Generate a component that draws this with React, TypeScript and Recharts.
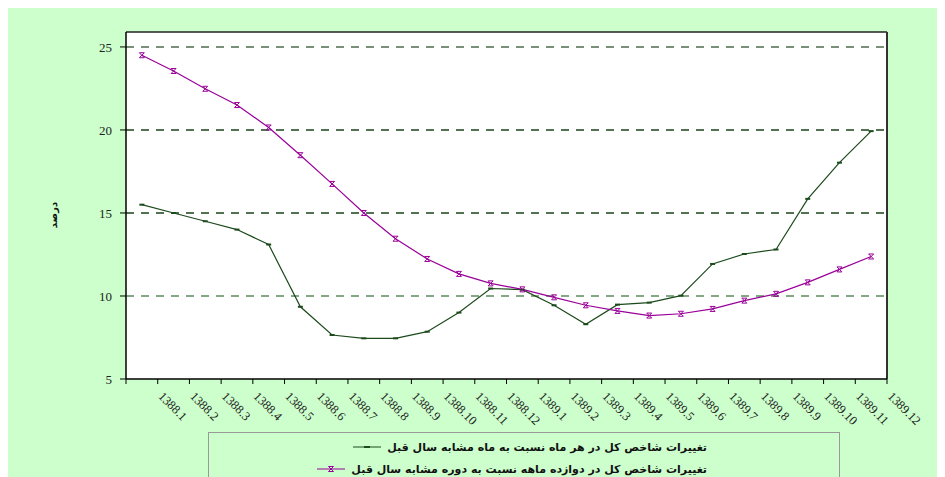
import {
  CartesianGrid,
  Line,
  LineChart,
  ReferenceLine,
  XAxis,
  YAxis,
} from "recharts";

const months = [
  "1388.1", "1388.2", "1388.3", "1388.4", "1388.5", "1388.6",
  "1388.7", "1388.8", "1388.9", "1388.10", "1388.11", "1388.12",
  "1389.1", "1389.2", "1389.3", "1389.4", "1389.5", "1389.6",
  "1389.7", "1389.8", "1389.9", "1389.10", "1389.11", "1389.12",
];

// change vs same month of previous year
const monthlyChange = [
  15.5, 15.0, 14.5, 14.0, 13.1, 9.35, 7.65, 7.45, 7.45, 7.85, 9.0, 10.45,
  10.38, 9.44, 8.3, 9.48, 9.6, 10.02, 11.93, 12.53, 12.8, 15.85, 18.03, 19.93,
];

// change of 12-month average vs previous period
const twelveMonthChange = [
  24.5, 23.55, 22.48, 21.5, 20.15, 18.48, 16.75, 15.0, 13.45, 12.23, 11.33, 10.76,
  10.4, 9.92, 9.44, 9.1, 8.82, 8.93, 9.22, 9.72, 10.13, 10.82, 11.6, 12.38,
];

const yTicks = [5, 10, 15, 20, 25];

const seriesNames = [
  "تغییرات شاخص کل در هر ماه نسبت به ماه مشابه سال قبل",
  "تغییرات شاخص کل در دوازده ماهه نسبت به دوره مشابه سال قبل",
];

const green = "#1c4a1c";
const purple = "#990099";

const data = months.map((m, i) => ({
  idx: i + 1,
  month: m,
  monthly: monthlyChange[i],
  twelve: twelveMonthChange[i],
}));

const xTicks = months.map((_, i) => i + 0.5).concat([months.length + 0.5]);

function DashDot(props: any) {
  const { cx, cy } = props;
  if (cx == null || cy == null) return null;
  return <line x1={cx - 2.5} x2={cx + 2.5} y1={cy} y2={cy} stroke={green} strokeWidth={2} />;
}

function StarDot(props: any) {
  const { cx, cy } = props;
  if (cx == null || cy == null) return null;
  const s = 2.5;
  return (
    <g stroke={purple} strokeWidth={1}>
      <line x1={cx - s} x2={cx + s} y1={cy - s} y2={cy + s} />
      <line x1={cx - s} x2={cx + s} y1={cy + s} y2={cy - s} />
      <line x1={cx - s} x2={cx + s} y1={cy - s} y2={cy - s} />
      <line x1={cx - s} x2={cx + s} y1={cy + s} y2={cy + s} />
    </g>
  );
}

function MonthTick(props: any) {
  const { x, y, payload } = props;
  const label = months[Math.round(payload.value - 1.5)];
  if (!label) return null;
  return (
    <text
      x={x}
      y={y + 11}
      transform={`rotate(45, ${x}, ${y + 11})`}
      textAnchor="start"
      fontFamily="Liberation Serif"
      fontSize={12.5}
      fill="#222"
    >
      {label}
    </text>
  );
}

function LegendBox() {
  const rows = [
    { name: seriesNames[0], color: green, star: false },
    { name: seriesNames[1], color: purple, star: true },
  ];
  return (
    <div
      style={{
        position: "absolute",
        left: 200,
        top: 424,
        width: 632,
        height: 45,
        borderTop: "1px solid #999",
        borderLeft: "1px solid #999",
        borderRight: "1px solid #999",
        boxSizing: "border-box",
        paddingTop: 3,
      }}
    >
      {rows.map((r) => (
        <div
          key={r.name}
          style={{
            display: "flex",
            justifyContent: "flex-end",
            alignItems: "center",
            paddingRight: 132,
            height: 22,
          }}
        >
          <svg width={28} height={10} style={{ marginRight: 6 }}>
            <line x1={0} x2={28} y1={5} y2={5} stroke={r.color} strokeWidth={1} />
            {r.star ? (
              <StarDot cx={14} cy={5} />
            ) : (
              <line x1={11} x2={17} y1={5} y2={5} stroke={green} strokeWidth={2} />
            )}
          </svg>
          <span
            style={{
              direction: "rtl",
              fontFamily: "DejaVu Sans",
              fontWeight: "bold",
              fontSize: 11,
              color: "#111",
            }}
          >
            {r.name}
          </span>
        </div>
      ))}
    </div>
  );
}

export default function App() {
  return (
    <div style={{ width: 937, height: 469, background: "#ccffcc", position: "relative" }}>
      <LineChart
        width={937}
        height={469}
        data={data}
        margin={{ top: 24, right: 58, bottom: 0, left: 0 }}
      >
        <CartesianGrid horizontal={false} vertical={false} fill="#ffffff" />
        <XAxis
          dataKey="idx"
          type="number"
          domain={[0.5, 24.5]}
          ticks={xTicks}
          interval={0}
          tick={<MonthTick />}
          tickLine={{ stroke: "#000" }}
          tickSize={5}
          axisLine={{ stroke: "#000", strokeWidth: 1.5 }}
          height={98}
        />
        <YAxis
          type="number"
          domain={[5, 25.9]}
          ticks={yTicks}
          interval={0}
          width={118}
          tickSize={6}
          tickLine={{ stroke: "#000" }}
          axisLine={{ stroke: "#000", strokeWidth: 1.5 }}
          tick={{ fontFamily: "Liberation Serif", fontSize: 13, fill: "#222", dx: -6 }}
          label={{
            content: () => (
              <text
                x={49}
                y={207}
                transform="rotate(-90, 49, 207)"
                textAnchor="middle"
                fontFamily="DejaVu Sans"
                fontWeight="bold"
                fontSize={10}
                fill="#111"
              >
                درصد
              </text>
            ),
          }}
        />
        <ReferenceLine y={25} stroke="#4e6e4e" strokeDasharray="8 7" strokeWidth={1.5} />
        <ReferenceLine y={20} stroke="#1a441a" strokeDasharray="8 7" strokeWidth={1.5} />
        <ReferenceLine y={15} stroke="#1a441a" strokeDasharray="8 7" strokeWidth={1.5} />
        <ReferenceLine y={10} stroke="#5c8c5c" strokeDasharray="8 7" strokeWidth={1.5} />
        <ReferenceLine y={25.9} stroke="#222" strokeWidth={1.5} />
        <ReferenceLine x={24.5} stroke="#333" strokeWidth={2} />
        <Line
          dataKey="monthly"
          name={seriesNames[0]}
          stroke={green}
          strokeWidth={1.2}
          dot={<DashDot />}
          activeDot={false}
          isAnimationActive={false}
        />
        <Line
          dataKey="twelve"
          name={seriesNames[1]}
          stroke={purple}
          strokeWidth={1.2}
          dot={<StarDot />}
          activeDot={false}
          isAnimationActive={false}
        />
      </LineChart>
      <LegendBox />
    </div>
  );
}
